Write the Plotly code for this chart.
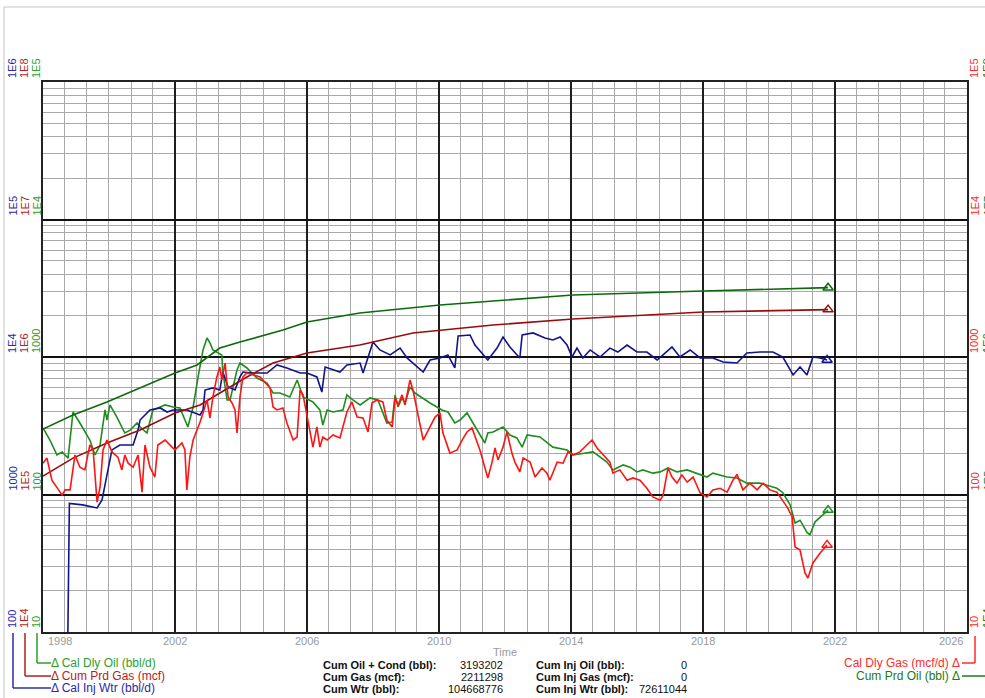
import math
import pandas as pd
import plotly.graph_objects as go

# ---------------- data ----------------
TICK_YEARS = [1998, 2002, 2006, 2010, 2014, 2018, 2022, 2026]

CUM_OIL_T = [1998.0, 1998.91, 1999.94, 2002.0, 2002.67, 2003.36, 2003.97, 2005.27, 2006.0,
             2007.6, 2010.03, 2014.06, 2018.0, 2021.79]
CUM_OIL = [299000, 378000, 471000, 765000, 875000, 1162000, 1285000, 1571000, 1797000,
           2089000, 2390000, 2825000, 3020000, 3193202]

CUM_GAS_T = [1998.0, 1998.91, 1999.94, 2000.94, 2002.0, 2002.76, 2003.36, 2004.18, 2004.97,
             2006.0, 2007.6, 2009.21, 2011.64, 2014.06, 2018.0, 2021.79]
CUM_GAS = [136000, 184000, 237000, 295000, 392000, 448000, 547000, 716000, 904000,
           1069000, 1222000, 1496000, 1710000, 1888000, 2123000, 2211298]

INJ_WTR_T = [1998.74, 1998.80, 1999.20, 1999.64, 1999.79, 1999.94, 2000.09, 2000.33, 2000.73, 2000.88,
             2000.94, 2001.24, 2001.55, 2001.76, 2001.94, 2002.36, 2002.76, 2002.85, 2002.91, 2003.15,
             2003.36, 2003.45, 2003.61, 2003.82, 2003.97, 2004.06, 2004.36, 2004.79, 2005.09, 2005.39,
             2005.79, 2006.0, 2006.30, 2006.45, 2006.55, 2007.0, 2007.21, 2007.61, 2007.70, 2008.0,
             2008.21, 2008.52, 2008.82, 2009.03, 2009.52, 2009.73, 2010.03, 2010.27, 2010.48, 2010.58,
             2010.94, 2011.09, 2011.48, 2011.76, 2011.94, 2012.15, 2012.45, 2012.52, 2012.85, 2013.21,
             2013.45, 2013.67, 2013.88, 2014.03, 2014.18, 2014.36, 2014.58, 2014.79, 2014.88, 2015.18,
             2015.42, 2015.70, 2016.0, 2016.30, 2016.61, 2016.79, 2017.06, 2017.30, 2017.61, 2017.91,
             2018.30, 2018.61, 2019.03, 2019.33, 2019.73, 2020.12, 2020.42, 2020.73, 2020.94, 2021.15,
             2021.33, 2021.55, 2021.76]
INJ_WTR = [50, 860, 840, 798, 912, 1430, 2110, 2290, 2290, 2940,
           3480, 4120, 4260, 3980, 4120, 4120, 3790, 4120, 5750, 5960,
           5750, 7780, 6050, 5750, 7160, 7780, 7650, 7650, 8750, 8320,
           7650, 7650, 7160, 5560, 8460, 7780, 8750, 9040, 7650, 12850,
           11250, 10350, 11610, 9840, 7780, 9510, 9840, 10350, 8320, 14220,
           14450, 12220, 9510, 11610, 13970, 11830, 9840, 14450, 14960, 13740,
           13300, 13970, 12220, 10000, 11610, 9840, 11250, 10350, 10000, 11610,
           10870, 12220, 10870, 10870, 9510, 10350, 11830, 10000, 11250, 9840,
           9840, 9200, 9040, 10690, 10870, 10870, 10000, 7400, 8460, 7400,
           10000, 9840, 9510]

OIL_RATE_T = [1998.0, 1998.21, 1998.42, 1998.58, 1998.76, 1998.91, 1999.12, 1999.42, 1999.58, 1999.73,
              1999.88, 1999.94, 2000.03, 2000.24, 2000.48, 2000.64, 2000.85, 2000.94, 2001.15, 2001.33,
              2001.48, 2001.70, 2001.94, 2002.15, 2002.39, 2002.55, 2002.70, 2002.85, 2002.97, 2003.06,
              2003.15, 2003.42, 2003.45, 2003.58, 2003.67, 2003.88, 2003.97, 2004.18, 2004.48, 2004.79,
              2004.97, 2005.18, 2005.48, 2005.70, 2005.88, 2006.18, 2006.39, 2006.48, 2006.61, 2006.79,
              2007.09, 2007.21, 2007.39, 2007.61, 2007.91, 2008.15, 2008.42, 2008.58, 2008.67, 2008.76,
              2008.88, 2008.97, 2009.12, 2009.27, 2009.73, 2010.09, 2010.27, 2010.48, 2010.64, 2010.85,
              2011.03, 2011.39, 2011.48, 2011.64, 2011.94, 2012.15, 2012.36, 2012.52, 2012.67, 2013.06,
              2013.45, 2013.88, 2014.06, 2014.48, 2014.67, 2015.09, 2015.27, 2015.58, 2015.79, 2016.0,
              2016.18, 2016.48, 2016.70, 2016.94, 2017.21, 2017.52, 2017.70, 2018.12, 2018.30, 2018.73,
              2019.03, 2019.33, 2019.73, 2019.94, 2020.24, 2020.42, 2020.64, 2020.79, 2020.94, 2021.15,
              2021.24, 2021.39, 2021.61, 2021.79]
OIL_RATE = [305, 249, 194, 204, 184, 398, 331, 249, 194, 229,
            412, 348, 448, 366, 280, 294, 331, 310, 280, 412,
            426, 448, 433, 426, 310, 433, 716, 1125, 1374, 1265,
            1125, 1035, 778, 487, 487, 804, 904, 832, 703, 647,
            547, 547, 512, 681, 512, 471, 412, 320, 412, 398,
            412, 530, 487, 448, 504, 487, 331, 337, 530, 433,
            504, 463, 605, 547, 463, 412, 398, 331, 348, 392,
            331, 237, 280, 285, 310, 271, 258, 221, 271, 262,
            221, 211, 194, 200, 204, 172, 151, 164, 158, 146,
            151, 143, 146, 156, 146, 151, 146, 134, 143, 134,
            132, 121, 121, 117, 111, 103, 84, 62, 65, 53,
            51, 63, 71, 77]

GAS_RATE_T = [1998.0, 1998.12, 1998.27, 1998.42, 1998.58, 1998.67, 1998.82, 1998.97, 1999.12, 1999.27,
              1999.42, 1999.52, 1999.64, 1999.73, 1999.82, 1999.94, 2000.09, 2000.27, 2000.39, 2000.48,
              2000.58, 2000.73, 2000.88, 2001.0, 2001.09, 2001.24, 2001.39, 2001.48, 2001.70, 2001.91,
              2002.0, 2002.21, 2002.30, 2002.36, 2002.45, 2002.55, 2002.67, 2002.76, 2002.85, 2002.97,
              2003.06, 2003.15, 2003.27, 2003.36, 2003.42, 2003.52, 2003.61, 2003.73, 2003.82, 2003.88,
              2003.97, 2004.06, 2004.18, 2004.36, 2004.58, 2004.88, 2004.97, 2005.09, 2005.27, 2005.39,
              2005.58, 2005.70, 2005.79, 2005.88, 2006.0, 2006.09, 2006.18, 2006.30, 2006.39, 2006.48,
              2006.61, 2006.79, 2007.0, 2007.21, 2007.36, 2007.52, 2007.70, 2007.85, 2007.97, 2008.12,
              2008.30, 2008.42, 2008.58, 2008.67, 2008.76, 2008.88, 2008.97, 2009.12, 2009.21, 2009.52,
              2009.88, 2010.03, 2010.12, 2010.33, 2010.55, 2010.70, 2010.85, 2011.0, 2011.24, 2011.48,
              2011.61, 2011.70, 2011.79, 2011.94, 2012.06, 2012.21, 2012.30, 2012.45, 2012.55, 2012.76,
              2012.91, 2013.12, 2013.27, 2013.36, 2013.58, 2013.76, 2013.91, 2014.06, 2014.27, 2014.48,
              2014.64, 2014.79, 2014.97, 2015.18, 2015.27, 2015.48, 2015.70, 2015.88, 2016.09, 2016.30,
              2016.48, 2016.70, 2016.79, 2016.94, 2017.06, 2017.21, 2017.36, 2017.52, 2017.70, 2017.91,
              2018.12, 2018.30, 2018.52, 2018.73, 2018.91, 2019.03, 2019.21, 2019.42, 2019.64, 2019.82,
              2020.03, 2020.24, 2020.55, 2020.70, 2020.79, 2020.94, 2021.09, 2021.18, 2021.33, 2021.55,
              2021.76]
GAS_RATE = [169, 184, 127, 113, 99, 108, 108, 194, 158, 151,
            229, 211, 88, 113, 211, 249, 204, 187, 151, 194,
            169, 158, 194, 104, 229, 158, 134, 229, 249, 221,
            211, 237, 211, 108, 187, 249, 294, 337, 392, 487,
            360, 512, 716, 845, 681, 904, 512, 463, 412, 280,
            512, 716, 766, 740, 716, 596, 433, 412, 426, 331,
            249, 262, 575, 530, 366, 294, 221, 310, 221, 262,
            249, 271, 258, 398, 471, 366, 360, 285, 463, 487,
            471, 348, 310, 504, 448, 530, 448, 681, 575, 249,
            366, 392, 280, 200, 211, 249, 285, 305, 211, 132,
            172, 218, 178, 221, 285, 200, 172, 146, 184, 172,
            134, 156, 143, 127, 172, 169, 204, 194, 204, 229,
            249, 218, 194, 172, 143, 151, 127, 132, 127, 111,
            96, 91, 99, 156, 134, 121, 139, 123, 134, 103,
            96, 108, 111, 104, 127, 140, 108, 121, 108, 121,
            108, 104, 81, 69, 41.5, 39.5, 26.9, 24.7, 31.8, 37.6,
            43]

# axis tick labels (all axes span four decades)
WTR_TICKS = [100, 1000, 1e4, 1e5, 1e6]
WTR_TICK_TEXT = ["100", "1000", "1E4", "1E5", "1E6"]
CUM_TICKS = [1e4, 1e5, 1e6, 1e7, 1e8]
CUM_TICK_TEXT = ["1E4", "1E5", "1E6", "1E7", "1E8"]
RATE_TICKS = [10, 100, 1000, 1e4, 1e5]
RATE_TICK_TEXT = ["10", "100", "1000", "1E4", "1E5"]

SUMMARY_LEFT_LABELS = ["Cum Oil + Cond (bbl):", "Cum Gas (mcf):", "Cum Wtr (bbl):"]
SUMMARY_LEFT_VALUES = ["3193202", "2211298", "104668776"]
SUMMARY_RIGHT_LABELS = ["Cum Inj Oil (bbl):", "Cum Inj Gas (mcf):", "Cum Inj Wtr (bbl):"]
SUMMARY_RIGHT_VALUES = ["0", "0", "72611044"]

# ---------------- styling ----------------
W, H = 985, 698
ML, MR, MT, MB = 43, 18, 82, 66
PW = W - ML - MR
PH = H - MT - MB
FONT = "Liberation Sans, Arial, sans-serif"

C_OIL_RATE = "#1f8c1f"
C_CUM_OIL = "#0c6a0c"
C_CUM_GAS = "#9a0c0c"
C_GAS_RATE = "#ff1414"
C_WTR = "#12128e"

T_WTR = "#2a2aa8"
T_CUMGAS = "#b01e1e"
T_OIL = "#2e9e2e"
T_GAS = "#ff2a2a"
T_CUMOIL = "#1c7a1c"


def px(xp):
    return (xp - ML) / PW


def py(yp):
    return (H - MB - yp) / PH


def to_dates(years):
    out = []
    for y in years:
        yr = int(y)
        start = pd.Timestamp(yr, 1, 1)
        end = pd.Timestamp(yr + 1, 1, 1)
        out.append(start + (end - start) * (y - yr))
    return out


fig = go.Figure()


def add_series(t, v, color, yaxis):
    x = to_dates(t)
    fig.add_trace(go.Scatter(x=x, y=v, mode="lines", yaxis=yaxis,
                             line=dict(color=color, width=1.6),
                             showlegend=False, hoverinfo="skip"))
    fig.add_trace(go.Scatter(x=[x[-1]], y=[v[-1]], mode="markers", yaxis=yaxis,
                             marker=dict(symbol="triangle-up-open", size=9, color=color,
                                         line=dict(width=1.5, color=color)),
                             showlegend=False, hoverinfo="skip", cliponaxis=False))


add_series(CUM_OIL_T, CUM_OIL, C_CUM_OIL, "y5")
add_series(CUM_GAS_T, CUM_GAS, C_CUM_GAS, "y3")
add_series(INJ_WTR_T, INJ_WTR, C_WTR, "y2")
add_series(OIL_RATE_T, OIL_RATE, C_OIL_RATE, "y")
add_series(GAS_RATE_T, GAS_RATE, C_GAS_RATE, "y4")

minor_vals = [m * 10 ** k for k in range(1, 5) for m in range(2, 10)]
hidden = dict(type="log", overlaying="y", visible=False, showgrid=False, zeroline=False)

fig.update_layout(
    width=W, height=H,
    margin=dict(l=ML, r=MR, t=MT, b=MB),
    paper_bgcolor="white", plot_bgcolor="white",
    font=dict(family=FONT, size=11),
    showlegend=False,
    xaxis=dict(type="date", range=[pd.Timestamp(1998, 1, 1), pd.Timestamp(2026, 1, 1)],
               tickvals=[pd.Timestamp(y, 1, 1) for y in TICK_YEARS],
               showticklabels=False, ticks="", zeroline=False,
               showgrid=True, gridcolor="#1e1e1e", gridwidth=1.5,
               minor=dict(dtick="M8", tick0="1998-01-01", showgrid=True,
                          gridcolor="#a9a9a9", gridwidth=1, ticks=""),
               showline=True, mirror=True, linecolor="#222", linewidth=1.5),
    yaxis=dict(type="log", range=[1, 5], tickvals=RATE_TICKS,
               showticklabels=False, ticks="", zeroline=False,
               showgrid=True, gridcolor="#111", gridwidth=1.8,
               minor=dict(tickvals=minor_vals, showgrid=True, gridcolor="#a9a9a9",
                          gridwidth=1, ticks=""),
               showline=True, mirror=True, linecolor="#222", linewidth=1.5),
    yaxis2=dict(hidden, range=[2, 6]),
    yaxis3=dict(hidden, range=[4, 8]),
    yaxis4=dict(hidden, range=[1, 5], side="right"),
    yaxis5=dict(hidden, range=[4, 8], side="right"),
)

ann = []
# rotated axis labels
axis_cols = [
    (WTR_TICKS, WTR_TICK_TEXT, "y2", T_WTR, 12),
    (CUM_TICKS, CUM_TICK_TEXT, "y3", T_CUMGAS, 24),
    (RATE_TICKS, RATE_TICK_TEXT, "y", T_OIL, 36),
    (RATE_TICKS, RATE_TICK_TEXT, "y4", T_GAS, 974),
    (CUM_TICKS, CUM_TICK_TEXT, "y5", T_CUMOIL, 987),
]
for vals, texts, ax, col, xp in axis_cols:
    for v, t in zip(vals, texts):
        ann.append(dict(x=px(xp), xref="paper", y=math.log10(v), yref=ax, text=t,
                        textangle=-90, xanchor="center", yanchor="bottom", yshift=3,
                        showarrow=False, borderpad=0, font=dict(size=11, color=col)))

# x tick labels
for yr in TICK_YEARS:
    anchor = "left" if yr == TICK_YEARS[0] else ("right" if yr == TICK_YEARS[-1] else "center")
    ann.append(dict(x=pd.Timestamp(yr, 1, 1), xref="x", y=py(641), yref="paper", text=str(yr),
                    xanchor=anchor, yanchor="middle", showarrow=False,
                    xshift=3 if anchor == "left" else (-2 if anchor == "right" else 0),
                    font=dict(size=11, color="#9a9a9a")))
ann.append(dict(x=px(505), xref="paper", y=py(652), yref="paper", text="Time",
                xanchor="center", yanchor="middle", showarrow=False,
                font=dict(size=11, color="#9a9a9a")))

# legend texts
legend_left = [("Δ Cal Dly Oil (bbl/d)", T_OIL, 663),
               ("Δ Cum Prd Gas (mcf)", T_CUMGAS, 676),
               ("Δ Cal Inj Wtr (bbl/d)", T_WTR, 688)]
for txt, col, yp in legend_left:
    ann.append(dict(x=px(50), xref="paper", y=py(yp), yref="paper", text=txt,
                    xanchor="left", yanchor="middle", showarrow=False, borderpad=0,
                    font=dict(size=12, color=col)))
legend_right = [("Cal Dly Gas (mcf/d) Δ", T_GAS, 663),
                ("Cum Prd Oil (bbl) Δ", T_CUMOIL, 676)]
for txt, col, yp in legend_right:
    ann.append(dict(x=px(961), xref="paper", y=py(yp), yref="paper", text=txt,
                    xanchor="right", yanchor="middle", showarrow=False, borderpad=0,
                    font=dict(size=12, color=col)))

# summary block
rows_y = [665, 677, 689]
for lab, val, yp in zip(SUMMARY_LEFT_LABELS, SUMMARY_LEFT_VALUES, rows_y):
    ann.append(dict(x=px(322), xref="paper", y=py(yp), yref="paper", text="<b>%s</b>" % lab,
                    xanchor="left", yanchor="middle", showarrow=False, borderpad=0,
                    font=dict(size=11, color="#111")))
    ann.append(dict(x=px(504), xref="paper", y=py(yp), yref="paper", text=val,
                    xanchor="right", yanchor="middle", showarrow=False, borderpad=0,
                    font=dict(size=11, color="#111")))
for lab, val, yp in zip(SUMMARY_RIGHT_LABELS, SUMMARY_RIGHT_VALUES, rows_y):
    ann.append(dict(x=px(535), xref="paper", y=py(yp), yref="paper", text="<b>%s</b>" % lab,
                    xanchor="left", yanchor="middle", showarrow=False, borderpad=0,
                    font=dict(size=11, color="#111")))
    ann.append(dict(x=px(688), xref="paper", y=py(yp), yref="paper", text=val,
                    xanchor="right", yanchor="middle", showarrow=False, borderpad=0,
                    font=dict(size=11, color="#111")))

fig.update_layout(annotations=ann)

# connector lines for the legend and outer frame
shapes = []


def seg(x0, y0, x1, y1, col, w=1.5):
    shapes.append(dict(type="line", xref="paper", yref="paper",
                       x0=px(x0), y0=py(y0), x1=px(x1), y1=py(y1),
                       line=dict(color=col, width=w)))


seg(13, 633, 13, 688, T_WTR); seg(13, 688, 51, 688, T_WTR)
seg(25, 633, 25, 676, T_CUMGAS); seg(25, 676, 51, 676, T_CUMGAS)
seg(37, 633, 37, 663, T_OIL); seg(37, 663, 51, 663, T_OIL)
seg(962, 663, 975, 663, T_GAS); seg(975, 663, 975, 636, T_GAS)
seg(962, 676, 987, 676, T_CUMOIL); seg(987, 676, 987, 636, T_CUMOIL)
seg(4, 7, 4, 698, "#c4c4c4", 1)
seg(4, 7, 985, 7, "#c4c4c4", 1)
fig.update_layout(shapes=shapes)

fig.write_html("out.html", config={"displayModeBar": False},
               post_script="document.body.style.margin='0px';document.body.style.overflow='hidden';")
